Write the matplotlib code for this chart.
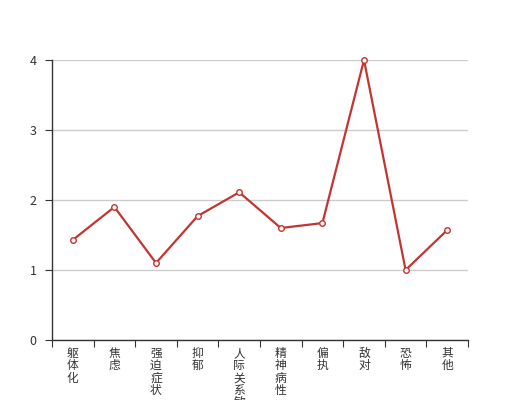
import matplotlib
matplotlib.use("Agg")
import matplotlib.pyplot as plt
import numpy as np

plt.rcParams['font.family'] = ['Noto Sans CJK SC', 'DejaVu Sans']

categories = ["躯体化", "焦虑", "强迫症状", "抑郁", "人际关系敏感", "精神病性", "偏执", "敌对", "恐怖", "其他"]
values = [1.43, 1.90, 1.10, 1.77, 2.11, 1.60, 1.67, 4.00, 1.00, 1.57]
yticks = [0, 1, 2, 3, 4]

fig = plt.figure(figsize=(5.2, 4.0), dpi=100)
ax = fig.add_axes([0.1, 0.15, 0.8, 0.7])

x = np.arange(len(categories))
ax.plot(x, values, color="#c23531", linewidth=1.6, marker="o", markersize=4,
        markerfacecolor="white", markeredgecolor="#c23531", markeredgewidth=1, zorder=3, clip_on=False)

ax.set_xlim(-0.5, len(categories) - 0.5)
ax.set_ylim(0, 4)
ax.set_yticks(yticks)
ax.set_yticklabels([str(v) for v in yticks], fontsize=9, color="#333333")
ax.yaxis.grid(True, color="#cccccc", linewidth=1)
ax.set_axisbelow(True)

# category ticks at boundaries, labels at centers
ax.set_xticks(np.arange(len(categories) + 1) - 0.5)
ax.set_xticklabels([])
ax.set_xticks(x, minor=True)
ax.set_xticklabels(["\n".join(c) for c in categories], minor=True, fontsize=8.5,
                   color="#333333", linespacing=0.93, va="top")
ax.tick_params(axis="x", which="minor", length=0, pad=5)
ax.tick_params(axis="x", which="major", length=5, color="#333333", direction="out")
ax.tick_params(axis="y", length=5, color="#333333", direction="out", pad=6)

for s in ["top", "right"]:
    ax.spines[s].set_visible(False)
for s in ["left", "bottom"]:
    ax.spines[s].set_color("#333333")
    ax.spines[s].set_linewidth(1)

fig.savefig("out.png", dpi=100)
